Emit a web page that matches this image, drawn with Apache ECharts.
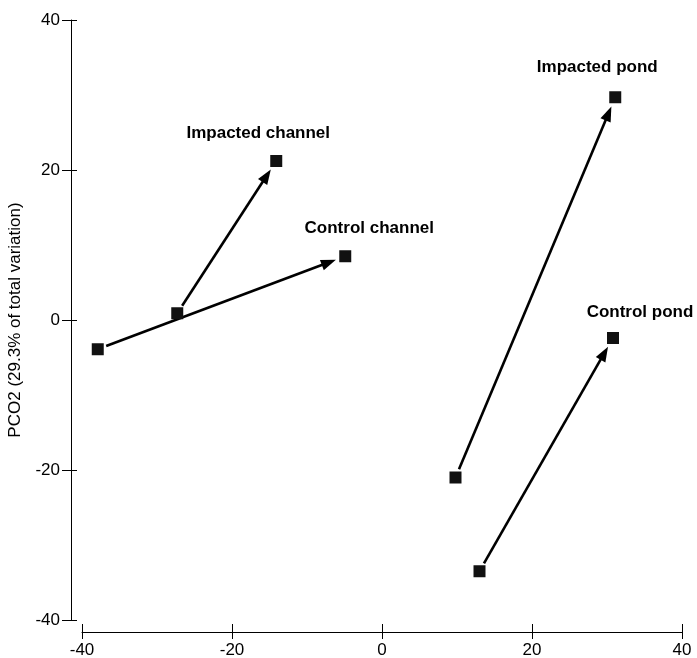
<!DOCTYPE html>
<html>
<head>
<meta charset="utf-8">
<title>PCO</title>
<script src="https://cdn.jsdelivr.net/npm/echarts@6/dist/echarts.min.js"></script>
<style>
  html, body { margin: 0; padding: 0; background: #fff; }
  #main { width: 697px; height: 658px; }
</style>
</head>
<body>
<div id="main"></div>
<script>
// data
const groups = ['Control channel', 'Impacted channel', 'Impacted pond', 'Control pond'];
const startX = [-37.9, -27.3, 9.8, 13.0];
const startY = [-3.9, 0.9, -21.0, -33.5];
const endX = [-4.9, -14.1, 31.1, 30.8];
const endY = [8.5, 21.2, 29.7, -2.4];
const axisTicks = [-40, -20, 0, 20, 40];
const yName = 'PCO2 (29.3% of total variation)';

// label offsets (px) for each group name, relative to the end square
const labelOffset = {
  'Control channel': [24, -28],
  'Impacted channel': [-18, -28],
  'Impacted pond': [-18, -30],
  'Control pond': [27, -26]
};

const font = 'Liberation Sans, Arial, sans-serif';

let chart = echarts.init(document.getElementById('main'), null, { renderer: 'canvas' });

const arrowData = groups.map((g, i) => [startX[i], startY[i], endX[i], endY[i]]);
const pointData = [];
groups.forEach((g, i) => {
  pointData.push({ value: [startX[i], startY[i]] });
  pointData.push({
    value: [endX[i], endY[i]],
    label: {
      show: true,
      formatter: g,
      position: 'inside',
      offset: labelOffset[g],
      fontFamily: font,
      fontSize: 17,
      fontWeight: 'bold',
      color: '#000'
    }
  });
});

// arrow from start square to end square, trimmed so it doesn't touch the squares
function renderArrow(params, api) {
  const p0 = api.coord([api.value(0), api.value(1)]);
  const p1 = api.coord([api.value(2), api.value(3)]);
  const dx = p1[0] - p0[0], dy = p1[1] - p0[1];
  const len = Math.sqrt(dx * dx + dy * dy);
  const ux = dx / len, uy = dy / len;
  const gapStart = 9, gapEnd = 10, headLen = 15, headHalf = 5.5;
  const s = [p0[0] + ux * gapStart, p0[1] + uy * gapStart];
  const tip = [p1[0] - ux * gapEnd, p1[1] - uy * gapEnd];
  const base = [tip[0] - ux * headLen, tip[1] - uy * headLen];
  const shaftEnd = [tip[0] - ux * (headLen - 2), tip[1] - uy * (headLen - 2)];
  return {
    type: 'group',
    children: [
      {
        type: 'line',
        shape: { x1: s[0], y1: s[1], x2: shaftEnd[0], y2: shaftEnd[1] },
        style: { stroke: '#000', lineWidth: 2.6 }
      },
      {
        type: 'polygon',
        shape: {
          points: [
            tip,
            [base[0] - uy * headHalf, base[1] + ux * headHalf],
            [base[0] + uy * headHalf, base[1] - ux * headHalf]
          ]
        },
        style: { fill: '#000' }
      }
    ]
  };
}

const tickLabel = { fontFamily: font, fontSize: 17, color: '#000' };

const option = {
  animation: false,
  backgroundColor: '#fff',
  grid: { left: 82, right: 15, top: 20, bottom: 38, containLabel: false, outerBoundsMode: 'none' },
  xAxis: [
    {
      type: 'value', position: 'bottom', offset: 12,
      min: axisTicks[0], max: axisTicks[axisTicks.length - 1], interval: 20,
      axisLine: { show: true, onZero: false, lineStyle: { color: '#000', width: 1 } },
      axisTick: { show: true, length: 7, lineStyle: { color: '#000' } },
      axisLabel: Object.assign({ margin: 10 }, tickLabel),
      splitLine: { show: false }
    },
    {
      // inner half of the crossing ticks
      type: 'value', position: 'bottom', offset: 12,
      min: axisTicks[0], max: axisTicks[axisTicks.length - 1], interval: 20,
      axisLine: { show: false, onZero: false },
      axisTick: { show: true, inside: true, length: 8, lineStyle: { color: '#000' } },
      axisLabel: { show: false },
      splitLine: { show: false }
    }
  ],
  yAxis: [
    {
      type: 'value', position: 'left', offset: 11,
      min: axisTicks[0], max: axisTicks[axisTicks.length - 1], interval: 20,
      name: yName, nameLocation: 'middle', nameGap: 47, nameRotate: 90,
      nameTextStyle: { fontFamily: font, fontSize: 17, color: '#000' },
      axisLine: { show: true, onZero: false, lineStyle: { color: '#000', width: 1 } },
      axisTick: { show: true, length: 9, lineStyle: { color: '#000' } },
      axisLabel: Object.assign({ margin: 11 }, tickLabel),
      splitLine: { show: false }
    },
    {
      type: 'value', position: 'left', offset: 11,
      min: axisTicks[0], max: axisTicks[axisTicks.length - 1], interval: 20,
      axisLine: { show: false, onZero: false },
      axisTick: { show: true, inside: true, length: 6, lineStyle: { color: '#000' } },
      axisLabel: { show: false },
      splitLine: { show: false }
    }
  ],
  series: [
    {
      type: 'custom',
      xAxisIndex: 0, yAxisIndex: 0,
      renderItem: renderArrow,
      data: arrowData,
      clip: false,
      z: 2
    },
    {
      type: 'scatter',
      xAxisIndex: 0, yAxisIndex: 0,
      symbol: 'rect',
      symbolSize: 12,
      itemStyle: { color: '#111', opacity: 1 },
      data: pointData,
      z: 3
    }
  ]
};

chart.setOption(option);
</script>
</body>
</html>
